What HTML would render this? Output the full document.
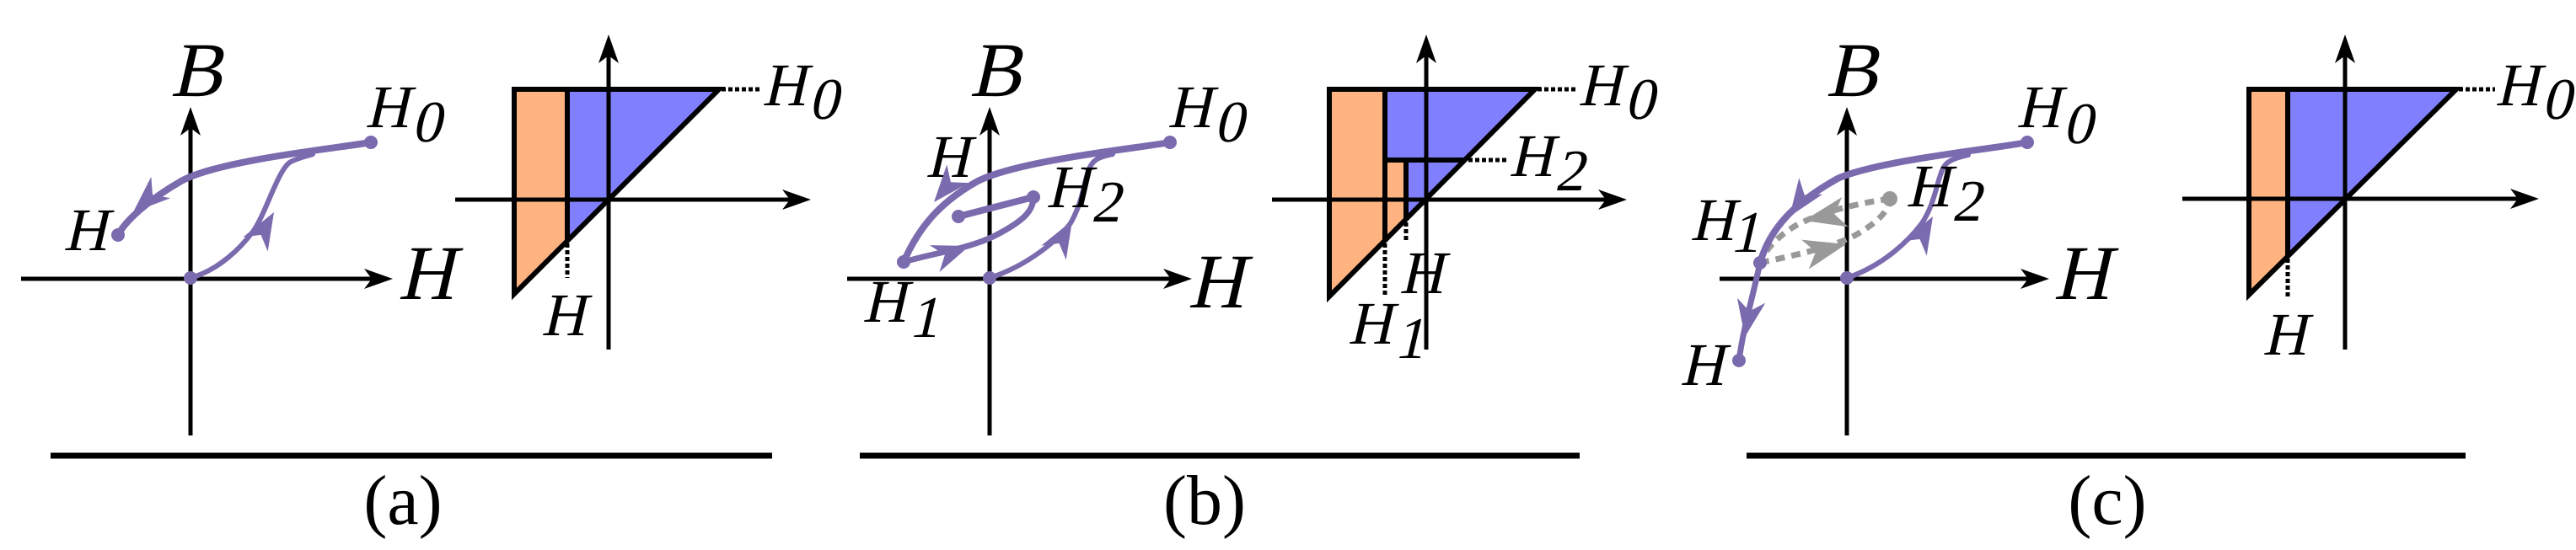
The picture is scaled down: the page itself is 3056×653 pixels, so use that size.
<!DOCTYPE html>
<html><head><meta charset="utf-8"><style>
html,body{margin:0;padding:0;background:#fff;}
svg{display:block;}
text{font-family:"Liberation Serif","Times New Roman",serif;font-style:normal;fill:#000;}
</style></head><body>
<svg width="3056" height="653" viewBox="0 0 3056 653" xmlns="http://www.w3.org/2000/svg">
<defs>
<path id="ah" d="M0,0 L-44,-17 L-31,0 L-44,17 Z"/>
<path id="ax" d="M0,0 L-34,-12 L-25,0 L-34,12 Z"/>
<path id="gh" d="M0,0 L-50,-18 L-37,0 L-50,18 Z"/>
</defs>

<!-- ================= PANEL A ================= -->
<g stroke="#000" stroke-width="5" fill="none">
<line x1="25" y1="331" x2="455" y2="331"/>
<line x1="226" y1="517" x2="226" y2="138"/>
</g>
<use href="#ax" transform="translate(466,331)"/>
<use href="#ax" transform="translate(226,127) rotate(-90)"/>
<g transform="translate(202,114) skewX(-13)"><text font-size="92">B</text></g>
<g transform="translate(472,355) skewX(-13)"><text font-size="92">H</text></g>

<g stroke="#7a6aae" fill="none" stroke-linecap="round">
<path d="M440,169 C400,176 260,190 215,215 C180,235 150,260 140,279" stroke-width="8"/>
<path d="M226,330 C260,320 285,295 300,275 C315,255 330,200 345,192 C355,187 365,185 371,183" stroke-width="6"/>
</g>
<g fill="#7a6aae">
<circle cx="440" cy="169" r="8"/><circle cx="140" cy="279" r="8"/><circle cx="226" cy="330" r="8"/>
<use href="#ah" transform="translate(158,252) rotate(138)"/>
<use href="#ah" transform="translate(325,252) rotate(-60)"/>
</g>
<g transform="translate(433,151) skewX(-13)"><text font-size="72">H</text></g><g transform="translate(488,168) skewX(-13)"><text font-size="70">0</text></g>
<g transform="translate(75,297) skewX(-13)"><text font-size="72">H</text></g>

<!-- right A -->
<polygon points="610,106 673,106 673,286 610,349" fill="#ffb380"/>
<polygon points="673,106 853,106 673,286" fill="#8080ff"/>
<g stroke="#000" stroke-width="6" fill="none">
<polygon points="610,106 853,106 610,349"/>
<line x1="673" y1="106" x2="673" y2="286"/>
</g>
<g stroke="#000" stroke-width="5" fill="none">
<line x1="540" y1="237" x2="950" y2="237"/>
<line x1="722" y1="415" x2="722" y2="52"/>
</g>
<use href="#ax" transform="translate(962,237)"/>
<use href="#ax" transform="translate(722,41) rotate(-90)"/>
<g stroke="#000" stroke-width="5" stroke-dasharray="5,3" fill="none">
<line x1="856" y1="106" x2="901" y2="106"/>
<line x1="673" y1="289" x2="673" y2="330"/>
</g>
<g transform="translate(904,125) skewX(-13)"><text font-size="72">H</text></g><g transform="translate(959,141) skewX(-13)"><text font-size="70">0</text></g>
<g transform="translate(642,398) skewX(-13)"><text font-size="72">H</text></g>
<line x1="60" y1="541" x2="916" y2="541" stroke="#000" stroke-width="7"/>
<text x="478" y="622" font-size="84" text-anchor="middle">(a)</text>

<!-- ================= PANEL B ================= -->
<g stroke="#000" stroke-width="5" fill="none">
<line x1="1005" y1="331" x2="1403" y2="331"/>
<line x1="1174" y1="517" x2="1174" y2="138"/>
</g>
<use href="#ax" transform="translate(1414,331)"/>
<use href="#ax" transform="translate(1174,127) rotate(-90)"/>
<g transform="translate(1150,114) skewX(-13)"><text font-size="92">B</text></g>
<g transform="translate(1409,365) skewX(-13)"><text font-size="92">H</text></g>

<g stroke="#7a6aae" fill="none" stroke-linecap="round">
<path d="M1388,169 C1350,176 1210,190 1160,215 C1115,240 1090,270 1072,311" stroke-width="8"/>
<path d="M1072,311 C1110,300 1150,295 1180,280 C1215,262 1226,250 1226,234" stroke-width="7"/>
<path d="M1226,234 L1137,257" stroke-width="8"/>
<path d="M1174,330 C1220,315 1255,285 1270,265 C1290,230 1285,200 1300,190 C1305,186 1315,184 1320,183" stroke-width="6"/>
</g>
<g fill="#7a6aae">
<circle cx="1388" cy="169" r="8"/><circle cx="1072" cy="311" r="8"/><circle cx="1174" cy="330" r="8"/>
<circle cx="1137" cy="257" r="8"/><circle cx="1226" cy="234" r="8"/>
<use href="#ah" transform="translate(1108,240) rotate(130)"/>
<use href="#ah" transform="translate(1150,292) rotate(-20)"/>
<use href="#ah" transform="translate(1272,262) rotate(-60)"/>
</g>
<g transform="translate(1385,151) skewX(-13)"><text font-size="72">H</text></g><g transform="translate(1440,168) skewX(-13)"><text font-size="70">0</text></g>
<g transform="translate(1098,210) skewX(-13)"><text font-size="72">H</text></g>
<g transform="translate(1241,246) skewX(-13)"><text font-size="72">H</text></g><g transform="translate(1294,263) skewX(-13)"><text font-size="70">2</text></g>
<g transform="translate(1023,382) skewX(-13)"><text font-size="72">H</text></g><g transform="translate(1078,400) skewX(-13)"><text font-size="70">1</text></g>

<!-- right B -->
<polygon points="1577,106 1643,106 1643,286 1577,352" fill="#ffb380"/>
<polygon points="1643,106 1821,106 1643,286" fill="#8080ff"/>
<polygon points="1643,190 1668,190 1668,261 1643,286" fill="#ffb380"/>
<g stroke="#000" stroke-width="6" fill="none">
<polygon points="1577,106 1821,106 1577,352"/>
<line x1="1643" y1="106" x2="1643" y2="286"/>
<line x1="1643" y1="190" x2="1739" y2="190"/>
<line x1="1668" y1="190" x2="1668" y2="261"/>
</g>
<g stroke="#000" stroke-width="5" fill="none">
<line x1="1509" y1="237" x2="1918" y2="237"/>
<line x1="1692" y1="415" x2="1692" y2="52"/>
</g>
<use href="#ax" transform="translate(1930,237)"/>
<use href="#ax" transform="translate(1692,41) rotate(-90)"/>
<g stroke="#000" stroke-width="5" stroke-dasharray="5,3" fill="none">
<line x1="1824" y1="106" x2="1869" y2="106"/>
<line x1="1742" y1="190" x2="1787" y2="190"/>
<line x1="1643" y1="289" x2="1643" y2="353"/>
<line x1="1668" y1="264" x2="1668" y2="286"/>
</g>
<g transform="translate(1872,125) skewX(-13)"><text font-size="72">H</text></g><g transform="translate(1927,141) skewX(-13)"><text font-size="70">0</text></g>
<g transform="translate(1790,209) skewX(-13)"><text font-size="72">H</text></g><g transform="translate(1844,226) skewX(-13)"><text font-size="70">2</text></g>
<g transform="translate(1660,348) skewX(-13)"><text font-size="72">H</text></g>
<g transform="translate(1599,408) skewX(-13)"><text font-size="72">H</text></g><g transform="translate(1654,425) skewX(-13)"><text font-size="70">1</text></g>
<line x1="1020" y1="541" x2="1874" y2="541" stroke="#000" stroke-width="7"/>
<text x="1429" y="622" font-size="84" text-anchor="middle">(b)</text>

<!-- ================= PANEL C ================= -->
<g stroke="#000" stroke-width="5" fill="none">
<line x1="2040" y1="331" x2="2420" y2="331"/>
<line x1="2191" y1="517" x2="2191" y2="138"/>
</g>
<use href="#ax" transform="translate(2431,331)"/>
<use href="#ax" transform="translate(2191,127) rotate(-90)"/>
<g transform="translate(2166,114) skewX(-13)"><text font-size="92">B</text></g>
<g transform="translate(2436,355) skewX(-13)"><text font-size="92">H</text></g>

<g stroke="#999" fill="none" stroke-width="7" stroke-dasharray="11,8">
<path d="M2088,312 C2130,303 2180,292 2205,277 C2230,262 2242,248 2242,236"/>
<path d="M2242,236 C2200,242 2160,252 2130,268 C2110,280 2095,295 2088,312"/>
</g>
<g fill="#999">
<circle cx="2242" cy="236" r="9"/>
<use href="#gh" transform="translate(2190,290) rotate(-14)"/>
<use href="#gh" transform="translate(2140,262) rotate(168)"/>
</g>
<g stroke="#7a6aae" fill="none" stroke-linecap="round">
<path d="M2405,169 C2370,176 2230,190 2180,212 C2130,240 2100,270 2088,312" stroke-width="8"/>
<path d="M2088,312 C2080,350 2068,390 2063,428" stroke-width="7"/>
<path d="M2191,330 C2235,315 2265,285 2280,265 C2300,235 2298,200 2312,192 C2320,187 2330,185 2335,184" stroke-width="6"/>
</g>
<g fill="#7a6aae">
<circle cx="2405" cy="169" r="8"/><circle cx="2088" cy="312" r="8"/><circle cx="2191" cy="330" r="8"/>
<circle cx="2063" cy="428" r="8"/>
<use href="#ah" transform="translate(2123,257) rotate(125)"/>
<use href="#ah" transform="translate(2070,400) rotate(100)"/>
<use href="#ah" transform="translate(2293,257) rotate(-60)"/>
</g>
<g transform="translate(2392,151) skewX(-13)"><text font-size="72">H</text></g><g transform="translate(2447,170) skewX(-13)"><text font-size="70">0</text></g>
<g transform="translate(2261,245) skewX(-13)"><text font-size="72">H</text></g><g transform="translate(2315,262) skewX(-13)"><text font-size="70">2</text></g>
<g transform="translate(2005,285) skewX(-13)"><text font-size="72">H</text></g><g transform="translate(2052,299) skewX(-13)"><text font-size="70">1</text></g>
<g transform="translate(1993,457) skewX(-13)"><text font-size="72">H</text></g>

<!-- right C -->
<polygon points="2668,106 2714,106 2714,304 2668,350" fill="#ffb380"/>
<polygon points="2714,106 2914,106 2714,304" fill="#8080ff"/>
<g stroke="#000" stroke-width="6" fill="none">
<polygon points="2668,106 2914,106 2668,350"/>
<line x1="2714" y1="106" x2="2714" y2="304"/>
</g>
<g stroke="#000" stroke-width="5" fill="none">
<line x1="2589" y1="236" x2="3000" y2="236"/>
<line x1="2782" y1="415" x2="2782" y2="52"/>
</g>
<use href="#ax" transform="translate(3012,236)"/>
<use href="#ax" transform="translate(2782,41) rotate(-90)"/>
<g stroke="#000" stroke-width="5" stroke-dasharray="5,3" fill="none">
<line x1="2917" y1="106" x2="2960" y2="106"/>
<line x1="2714" y1="307" x2="2714" y2="353"/>
</g>
<g transform="translate(2960,125) skewX(-13)"><text font-size="72">H</text></g><g transform="translate(3015,141) skewX(-13)"><text font-size="70">0</text></g>
<g transform="translate(2684,421) skewX(-13)"><text font-size="72">H</text></g>
<line x1="2072" y1="541" x2="2925" y2="541" stroke="#000" stroke-width="7"/>
<text x="2500" y="622" font-size="84" text-anchor="middle">(c)</text>
</svg>
</body></html>
